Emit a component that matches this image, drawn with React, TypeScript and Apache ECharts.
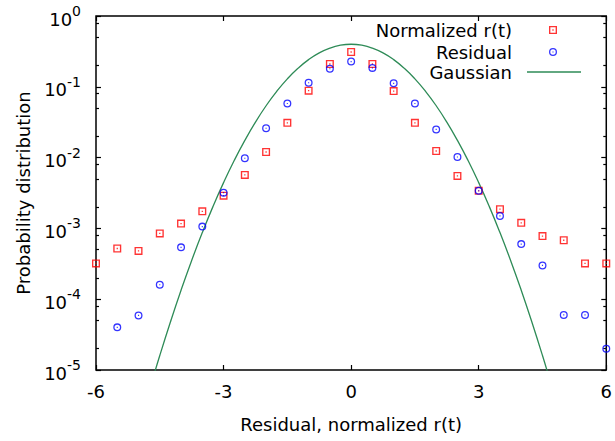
import React, { useEffect, useRef } from "react";
import * as echarts from "echarts";

const xValues = [-6, -5.5, -5, -4.5, -4, -3.5, -3, -2.5, -2, -1.5, -1, -0.5, 0, 0.5, 1, 1.5, 2, 2.5, 3, 3.5, 4, 4.5, 5, 5.5, 6];
const normalizedValues = [3.2e-4, 5.2e-4, 4.8e-4, 8.5e-4, 1.17e-3, 1.74e-3, 2.9e-3, 5.7e-3, 0.012, 0.031, 0.088, 0.21, 0.31, 0.21, 0.087, 0.031, 0.0124, 0.0055, 0.0034, 0.00187, 0.0012, 0.00078, 0.00068, 0.00032, 0.00032];
const residualValues = [null, 4.0e-5, 5.9e-5, 1.6e-4, 5.4e-4, 1.06e-3, 3.2e-3, 9.8e-3, 0.026, 0.058, 0.114, 0.18, 0.227, 0.185, 0.112, 0.058, 0.025, 0.0102, 0.0034, 0.0015, 0.0006, 0.0003, 6.0e-5, 6.0e-5, 2.0e-5];

const gaussX = [-4.75, -4.5, -4.25, -4, -3.75, -3.5, -3.25, -3, -2.75, -2.5, -2.25, -2, -1.75, -1.5, -1.25, -1, -0.75, -0.5, -0.25, 0, 0.25, 0.5, 0.75, 1, 1.25, 1.5, 1.75, 2, 2.25, 2.5, 2.75, 3, 3.25, 3.5, 3.75, 4, 4.25, 4.5, 4.75];
const gaussY = [5.05e-6, 1.6e-5, 4.77e-5, 1.34e-4, 3.53e-4, 8.73e-4, 2.03e-3, 4.43e-3, 9.09e-3, 0.0175, 0.0317, 0.054, 0.0863, 0.1295, 0.1826, 0.242, 0.3011, 0.3521, 0.3867, 0.3989, 0.3867, 0.3521, 0.3011, 0.242, 0.1826, 0.1295, 0.0863, 0.054, 0.0317, 0.0175, 9.09e-3, 4.43e-3, 2.03e-3, 8.73e-4, 3.53e-4, 1.34e-4, 4.77e-5, 1.6e-5, 5.05e-6];

const yMajorTicks = [1e-5, 1e-4, 1e-3, 1e-2, 1e-1, 1];
const yMinorTicks = [2e-5, 5e-5, 8e-5, 2e-4, 5e-4, 8e-4, 2e-3, 5e-3, 8e-3, 2e-2, 5e-2, 8e-2, 0.2, 0.5, 0.8];

const seriesNames = ["Normalized r(t)", "Residual", "Gaussian"];

const FONT = "DejaVu Sans";
const SQUARE = "path://M0,0H10V10H0Z M1.7,1.7V8.3H8.3V1.7Z M4.2,4.2H5.8V5.8H4.2Z";
const CIRCLE = "path://M5,0A5,5,0,1,1,5,10A5,5,0,1,1,5,0Z M5,1.6A3.4,3.4,0,1,0,5,8.4A3.4,3.4,0,1,0,5,1.6Z M4.3,4.3H5.7V5.7H4.3Z";

export default function App() {
  const ref = useRef<HTMLDivElement>(null);
  useEffect(() => {
    const chart = echarts.init(ref.current!, null, { renderer: "svg" });
    const normData = xValues.map((x, i) => [x, normalizedValues[i]]);
    const resData = xValues
      .map((x, i) => [x, residualValues[i]])
      .filter((d) => d[1] !== null);
    const gaussData = gaussX.map((x, i) => [x, gaussY[i]]);

    const yBase = {
      type: "log",
      logBase: 10,
      min: 1e-5,
      max: 1,
      gridIndex: 0,
      splitLine: { show: false },
      axisLine: { show: false, onZero: false },
    };
    const legendText = (pad: number) => ({
      fontFamily: FONT,
      fontSize: 18,
      color: "#000",
      lineHeight: 20,
      padding: [0, pad, 0, 0],
    });

    chart.setOption({
      animation: false,
      textStyle: { fontFamily: FONT },
      grid: {
        left: 96,
        top: 16,
        width: 511,
        height: 354,
        show: true,
        borderColor: "#000",
        borderWidth: 1.5,
        backgroundColor: "transparent",
      },
      legend: [
        {
          data: [{ name: seriesNames[0], icon: SQUARE }],
          right: 58,
          top: 20,
          align: "right",
          padding: 0,
          itemWidth: 8,
          itemHeight: 8,
          selectedMode: false,
          textStyle: legendText(32),
        },
        {
          data: [{ name: seriesNames[1], icon: CIRCLE }],
          right: 58,
          top: 42,
          align: "right",
          padding: 0,
          itemWidth: 8,
          itemHeight: 8,
          selectedMode: false,
          textStyle: legendText(32),
        },
        {
          data: [{ name: seriesNames[2], icon: "rect" }],
          right: 34,
          top: 62,
          align: "right",
          padding: 0,
          itemWidth: 54,
          itemHeight: 1.4,
          selectedMode: false,
          textStyle: legendText(10),
        },
      ],
      xAxis: [
        {
          type: "value",
          min: -6,
          max: 6,
          interval: 3,
          position: "bottom",
          name: "Residual, normalized r(t)",
          nameLocation: "middle",
          nameGap: 45,
          nameTextStyle: { fontFamily: FONT, fontSize: 18, color: "#000" },
          axisLine: { show: false, onZero: false },
          splitLine: { show: false },
          axisTick: { inside: true, length: 5, lineStyle: { color: "#000", width: 1.2 } },
          axisLabel: { margin: 12, fontFamily: FONT, fontSize: 18, color: "#000" },
        },
        {
          type: "value",
          min: -6,
          max: 6,
          interval: 3,
          position: "top",
          axisLine: { show: false, onZero: false },
          splitLine: { show: false },
          axisTick: { inside: true, length: 5, lineStyle: { color: "#000", width: 1.2 } },
          axisLabel: { show: false },
        },
      ],
      yAxis: [
        {
          ...yBase,
          position: "left",
          name: "Probability distribution",
          nameLocation: "middle",
          nameGap: 64,
          nameTextStyle: { fontFamily: FONT, fontSize: 18, color: "#000" },
          axisTick: { inside: true, length: 5, lineStyle: { color: "#000", width: 1.2 } },
          axisLabel: {
            margin: 15,
            formatter: (v: number) => "{b|10}{s|" + Math.round(Math.log10(v)) + "}",
            rich: {
              b: { fontFamily: FONT, fontSize: 18, color: "#000", lineHeight: 24, verticalAlign: "bottom" },
              s: { fontFamily: FONT, fontSize: 14, color: "#000", lineHeight: 24, verticalAlign: "top" },
            },
          },
        },
        {
          ...yBase,
          position: "left",
          axisTick: { inside: true, length: 3, lineStyle: { color: "#000", width: 1.2 }, customValues: yMinorTicks },
          axisLabel: { show: false },
        },
        {
          ...yBase,
          position: "right",
          axisTick: { inside: true, length: 5, lineStyle: { color: "#000", width: 1.2 }, customValues: yMajorTicks },
          axisLabel: { show: false },
        },
        {
          ...yBase,
          position: "right",
          axisTick: { inside: true, length: 3, lineStyle: { color: "#000", width: 1.2 }, customValues: yMinorTicks },
          axisLabel: { show: false },
        },
      ],
      series: [
        {
          name: seriesNames[2],
          type: "line",
          data: gaussData,
          smooth: true,
          symbol: "none",
          clip: true,
          lineStyle: { color: "#2e8b57", width: 1.3 },
          itemStyle: { color: "#2e8b57" },
          z: 1,
        },
        {
          name: seriesNames[0],
          type: "scatter",
          data: normData,
          symbol: SQUARE,
          symbolSize: 8,
          itemStyle: { color: "#ff0000" },
          z: 3,
        },
        {
          name: seriesNames[1],
          type: "scatter",
          data: resData,
          symbol: CIRCLE,
          symbolSize: 8,
          itemStyle: { color: "#0000ff" },
          z: 4,
        },
      ],
    });
    return () => chart.dispose();
  }, []);
  return (
    <div
      ref={ref}
      style={{ position: "fixed", left: 0, top: 0, width: 615, height: 441, background: "#fff" }}
    />
  );
}
